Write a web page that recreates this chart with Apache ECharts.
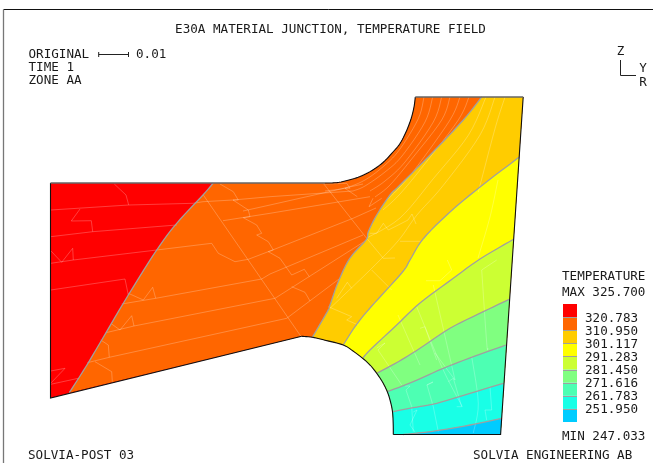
<!DOCTYPE html>
<html><head><meta charset="utf-8">
<style>html,body{margin:0;padding:0;background:#fff}#c{width:653px;height:463px}</style>
<script src="https://cdn.jsdelivr.net/npm/echarts@6/dist/echarts.min.js"></script>
</head><body><div id="c"></div>
<script>
// Model outline pieces, in picture-space axis units
const topArc = [[325,183],[337,182.6],[349,180],[360,176.5],[372,170.5],[383,162.5],[393,152],[400,143.5],[406,132],[411,119],[414,107],[415.3,97]];
const holeArc = [[393.3,434.5],[393.2,424],[392.5,411.7],[390.3,401],[387.3,391.7],[382.5,382],[376.7,373.3],[370.5,365.5],[362.7,358.3],[353,351],[343.3,345],[325,340.2],[312.3,337.3],[301.7,336.3]];
const corners = { leftTop:[50.5,183], leftBottom:[50.5,398], topRight:[523.2,97], bottomRight:[500.6,434.5] };

// Contour lines (outer edge -> hole)
const iso320 = [[213.3,183],[203,195],[176.7,223.3],[156.7,250],[128.3,295],[101.7,340],[86,366.5],[69.3,392.7]];
const iso311 = [[481.7,97],[463.3,120],[433,152],[400,185],[390,195],[376.7,215],[368.3,231.7],[366,240],[350,258],[338.3,281.7],[330,305],[327.3,311.7],[312.3,337.3]];
const iso301 = [[519,157.3],[480,187],[450,212],[423.3,238.7],[410,260],[401.7,273],[370,308],[355,326.7],[343.3,345]];
const iso291 = [[513.5,239.3],[480,259],[453.3,278.3],[420,303],[396.7,325],[370,350],[362.7,358.3]];
const iso281 = [[509.3,299.3],[483.3,311.7],[450,328.3],[420,348.3],[398.3,361.7],[376.7,373.3]];
const iso272 = [[505.9,345],[473.3,356.7],[443.3,368.3],[413.3,381.7],[387.3,391.7]];
const iso262 = [[503.4,383.3],[470,393.3],[436.7,403.3],[413.3,407.7],[392.5,411.7]];
const iso252 = [[501.6,418.3],[470,425],[436.7,430.7],[415,433.3],[403,434.5]];

// Bands
const bandColors = ['#ff0000','#ff6600','#ffcc00','#ffff00','#ccff33','#80ff80','#4dffb3','#19ffe6','#00ccff'];
const legendValues = ['320.783','310.950','301.117','291.283','281.450','271.616','261.783','251.950'];

// Element mesh traces: straight/stepped edges
const meshLines = [
 [[114.3,184],[126,195],[128.7,205]],
 [[50.7,210],[128.7,205],[193,203.3],[203,201.7],[233,200],[270,196.7],[353,191]],
 [[80,209],[71.3,221],[91.3,220.7],[92.7,231.7]],
 [[50.7,236.7],[92.7,231.7],[176.7,225]],
 [[50.7,250.7],[61.7,262.3],[72.7,248.3],[73.3,260]],
 [[50.7,263.3],[73.3,260],[156.7,250],[211.7,243.3],[218.3,253.3],[235,261.7],[248.3,259.3],[270,251],[353,218.3],[376,208]],
 [[50.7,290],[125,279],[128.3,295]],
 [[50.7,371],[65,368.3],[50.7,383.3]],
 [[50.7,384.3],[78.3,378.3]],
 [[203.3,195],[300.7,336]],
 [[128.3,293.3],[143.3,300],[152.7,287.3],[155.7,298.3]],
 [[121.7,304],[155.7,298.3],[261.7,279],[270,274],[363,235]],
 [[111.7,324],[120,330],[131.7,315.7],[134,326]],
 [[106,332.7],[134,326],[275,298.3],[366.7,240]],
 [[100.7,340],[108.3,345],[109.3,357.3]],
 [[87.3,362.7],[109.3,357.3],[286.7,318.3],[340,278.3]],
 [[95,361.7],[111.7,371.7],[112.3,381.7]],
 [[220,184],[233.3,191.7],[238.3,200],[233,200],[248.3,210],[250,216.7],[243.3,217.7],[256.7,225],[261.7,233.3],[256.7,235],[268.3,241.7],[273.3,250],[268.3,251.7],[280,258.3],[291.7,275],[304.3,269.3],[309.3,276.7]],
 [[291.7,286.7],[305,292.3],[310,301]],
 [[223,220.7],[270,213.3],[370,196.7]],
 [[243,211],[270,205],[363,184]],
 [[323.3,183.3],[366.7,238.3],[383.3,258.3],[395,258]],
 [[325,184],[346.7,183.3],[350,188.3],[345,188.3],[357.3,196.7]],
 [[373,198.3],[369,206.7],[381.7,198.3]],
 [[336.7,298.3],[347.3,282.3],[351.7,288.3]],
 [[328.3,306.7],[351.7,316.7],[346.7,320],[358.3,325]],
 [[371.7,270],[391.7,290]],
 [[370,233.3],[376.7,233.3],[383.3,223.3],[388.3,230],[395,226.7],[408,220],[412,214],[416,224]],
 [[400,241.3],[421.7,241.3]],
 [[481.7,270],[496.7,260]],
 [[426,280.7],[440,280.7],[451.7,270],[447.3,260]],
 [[433.3,285],[455,380],[435,353]],
 [[420,328.3],[425,326.7],[436.7,360]],
 [[376.7,348],[385,343],[378,350],[401.7,385]],
 [[405,386],[410,386],[406,390],[411.7,406.7],[413.3,431.7]],
 [[426.7,385],[433,382],[427,385],[433.3,406.7],[438.3,431.7]],
 [[448.3,381.7],[453.3,378.3],[461.7,406.7],[456.7,406.7]],
 [[490,386.7],[491.7,410],[485,410],[486.7,420]],
 [[413.3,412],[417,410],[410,425],[415,432]]
];
// Element mesh traces: curved families
const meshCurves = [
 [[330,308.3],[370,270],[398,241],[416.7,215.3],[443.3,185.3],[480,135],[495,97]],
 [[366.7,238],[400,218],[433.3,178.7],[468.3,135.3],[486,97]],
 [[424,97],[418.3,118.7],[400,149],[385,165],[365,180],[345,188],[325,191]],
 [[432.7,97],[425,122],[402,156],[385,172],[365,186],[353,191]],
 [[441.7,97],[433.3,122],[405,162],[385,181],[370,191]],
 [[450,97],[441.7,120],[413.3,157],[390,185],[375,197]],
 [[460,97],[450,120],[416.7,167],[400,187],[385,202]],
 [[469,97],[458.3,120],[425,163.7],[400,194],[383,210]],
 [[505,97],[495,128.7],[478.3,192]],
 [[498,180],[490,217],[478,258]],
 [[481.7,270],[486.7,343],[488,348]],
 [[416.7,306.7],[441.7,366.7],[462.3,406.7]],
 [[398,315],[408,338],[420,365]],
 [[471.7,356.7],[478.3,403.3],[473.3,433]]
];

// Annotation strokes
const frameTop = [[3.5,9.5],[653,9.5]];
const frameLeft = [[3.5,9.5],[3.5,463]];
const scaleBar = [[98.7,54.5],[128.5,54.5]];
const scaleTickA = [[98.7,52],[98.7,57]];
const scaleTickB = [[128.5,52],[128.5,57]];
const axisCross = [[620.5,60],[620.5,75.5],[636,75.5]];

// Text
const titleText = 'E30A MATERIAL JUNCTION, TEMPERATURE FIELD';
const infoLines = ['ORIGINAL','TIME 1','ZONE AA'];
const scaleText = '0.01';
const legendTitle = ['TEMPERATURE','MAX 325.700'];
const legendMin = 'MIN 247.033';
const footerLeft = 'SOLVIA-POST 03';
const footerRight = 'SOLVIA ENGINEERING AB';

// Pen smoothing of the traced curves, for drawing only
const STEPS = 6;
const pen = (pts) => {
  const out = [];
  for (let i = 0; i < pts.length - 1; i++) {
    const a = pts[Math.max(i-1,0)], b = pts[i], c = pts[i+1], d = pts[Math.min(i+2,pts.length-1)];
    for (let s = 0; s < STEPS; s++) {
      const t = s/STEPS, t2 = t*t, t3 = t2*t;
      out.push([0,1].map(k => 0.5*(2*b[k] + (c[k]-a[k])*t + (2*a[k]-5*b[k]+4*c[k]-d[k])*t2 + (3*b[k]-a[k]-3*c[k]+d[k])*t3)));
    }
  }
  out.push(pts[pts.length-1]);
  return out;
};
const holePen = pen(holeArc), topPen = pen(topArc);
const hole = (iso) => {
  const end = iso[iso.length-1];
  const i = holeArc.findIndex(p => p[0] === end[0] && p[1] === end[1]);
  return holePen.slice(0, i*STEPS + 1).reverse();
};
const isoLines = [iso320,iso311,iso301,iso291,iso281,iso272,iso262,iso252].map(pen);
// Painter's-order fills: each band covers everything on the cool side of its contour
const fills = [
  [corners.leftTop].concat(topPen, [corners.topRight, corners.bottomRight], holePen, [corners.leftBottom]),
  isoLines[0].concat(holePen.slice().reverse(), [corners.bottomRight, corners.topRight], topPen.slice().reverse()),
  isoLines[1].concat(hole(iso311), [corners.bottomRight, corners.topRight]),
  isoLines[2].concat(hole(iso301), [corners.bottomRight]),
  isoLines[3].concat(hole(iso291), [corners.bottomRight]),
  isoLines[4].concat(hole(iso281), [corners.bottomRight]),
  isoLines[5].concat(hole(iso272), [corners.bottomRight]),
  isoLines[6].concat(hole(iso262), [corners.bottomRight]),
  isoLines[7].concat([corners.bottomRight])
];
const outlineDark = [[[50.5,183],[50.5,398],[301.7,336.3]], holePen, topPen, [corners.topRight, corners.bottomRight, [393.3,434.5]]];
const outlineTop = [[[50.5,183],[325,183]], [[415.3,97],[523.2,97]]];

const polySeries = (paths, shapeType, styleOf, z) => ({
  type:'custom', coordinateSystem:'cartesian2d', silent:true, animation:false, clip:false, z:z,
  data: paths.map((_, i) => [i]),
  renderItem: (params, api) => {
    const i = params.dataIndex;
    return { type:shapeType, shape:{ points: paths[i].map(p => api.coord(p)) }, style: styleOf(i) };
  }
});

const FONT = '12.6px "DejaVu Sans Mono", monospace';
const INK = '#1a1a1a';
const txt = (text, x, y, align) => ({ type:'text', silent:true, style:{ text, x, y, font:FONT, fill:INK, textAlign:align||'left', textVerticalAlign:'middle' } });

const legendTop = 304, legendStep = 13.11, legendX = 563, legendW = 14;
const graphics = [
  txt(titleText, 330.5, 30, 'center'),
  txt(infoLines[0], 28.5, 54.3), txt(infoLines[1], 28.5, 67.3), txt(infoLines[2], 28.5, 80.3),
  txt(scaleText, 136, 54.3),
  txt('Z', 620.5, 52, 'center'), txt('Y', 643, 69, 'center'), txt('R', 643, 83, 'center'),
  txt(legendTitle[0], 562, 276.7), txt(legendTitle[1], 562, 292.3),
  txt(legendMin, 562, 436.7),
  txt(footerLeft, 28, 455.5), txt(footerRight, 473, 455.5)
];
bandColors.forEach((c, i) => graphics.push({ type:'rect', silent:true,
  shape:{ x:legendX, y:legendTop+i*legendStep, width:legendW, height:legendStep }, style:{ fill:c } }));
legendValues.forEach((v, i) => {
  const y = Math.round(legendTop + (i+1)*legendStep) + 0.5;
  graphics.push({ type:'line', silent:true, shape:{ x1:legendX, y1:y, x2:legendX+legendW, y2:y }, style:{ stroke:'#a0a0a0', lineWidth:1 } });
  graphics.push(txt(v, 585, 319 + i*13.02));
});

const meshStyle = () => ({ fill:null, stroke:'rgba(255,255,255,0.3)', lineWidth:0.8 });
const chart = echarts.init(document.getElementById('c'), null, { renderer:'canvas' });
chart.setOption({
  animation:false,
  backgroundColor:'#ffffff',
  grid:{ left:0, right:0, top:0, bottom:0, containLabel:false },
  xAxis:{ type:'value', min:0, max:653, show:false },
  yAxis:{ type:'value', min:0, max:463, inverse:true, show:false },
  graphic:{ elements:graphics },
  series:[
    polySeries(fills, 'polygon', i => ({ fill:bandColors[i], stroke:null }), 1),
    polySeries(meshLines, 'polyline', meshStyle, 2),
    polySeries(meshCurves.map(pen), 'polyline', meshStyle, 2),
    polySeries(isoLines, 'polyline', () => ({ fill:null, stroke:'#a0a0a0', lineWidth:1.3 }), 3),
    polySeries(outlineDark, 'polyline', () => ({ fill:null, stroke:'#111', lineWidth:1.1 }), 4),
    polySeries(outlineTop, 'polyline', () => ({ fill:null, stroke:'#666', lineWidth:1.5 }), 4),
    polySeries([frameTop], 'polyline', () => ({ fill:null, stroke:'#111', lineWidth:1 }), 5),
    polySeries([frameLeft], 'polyline', () => ({ fill:null, stroke:'#777', lineWidth:1.3 }), 5),
    polySeries([scaleBar,scaleTickA,scaleTickB,axisCross], 'polyline', () => ({ fill:null, stroke:'#222', lineWidth:1 }), 5)
  ]
});
</script></body></html>
